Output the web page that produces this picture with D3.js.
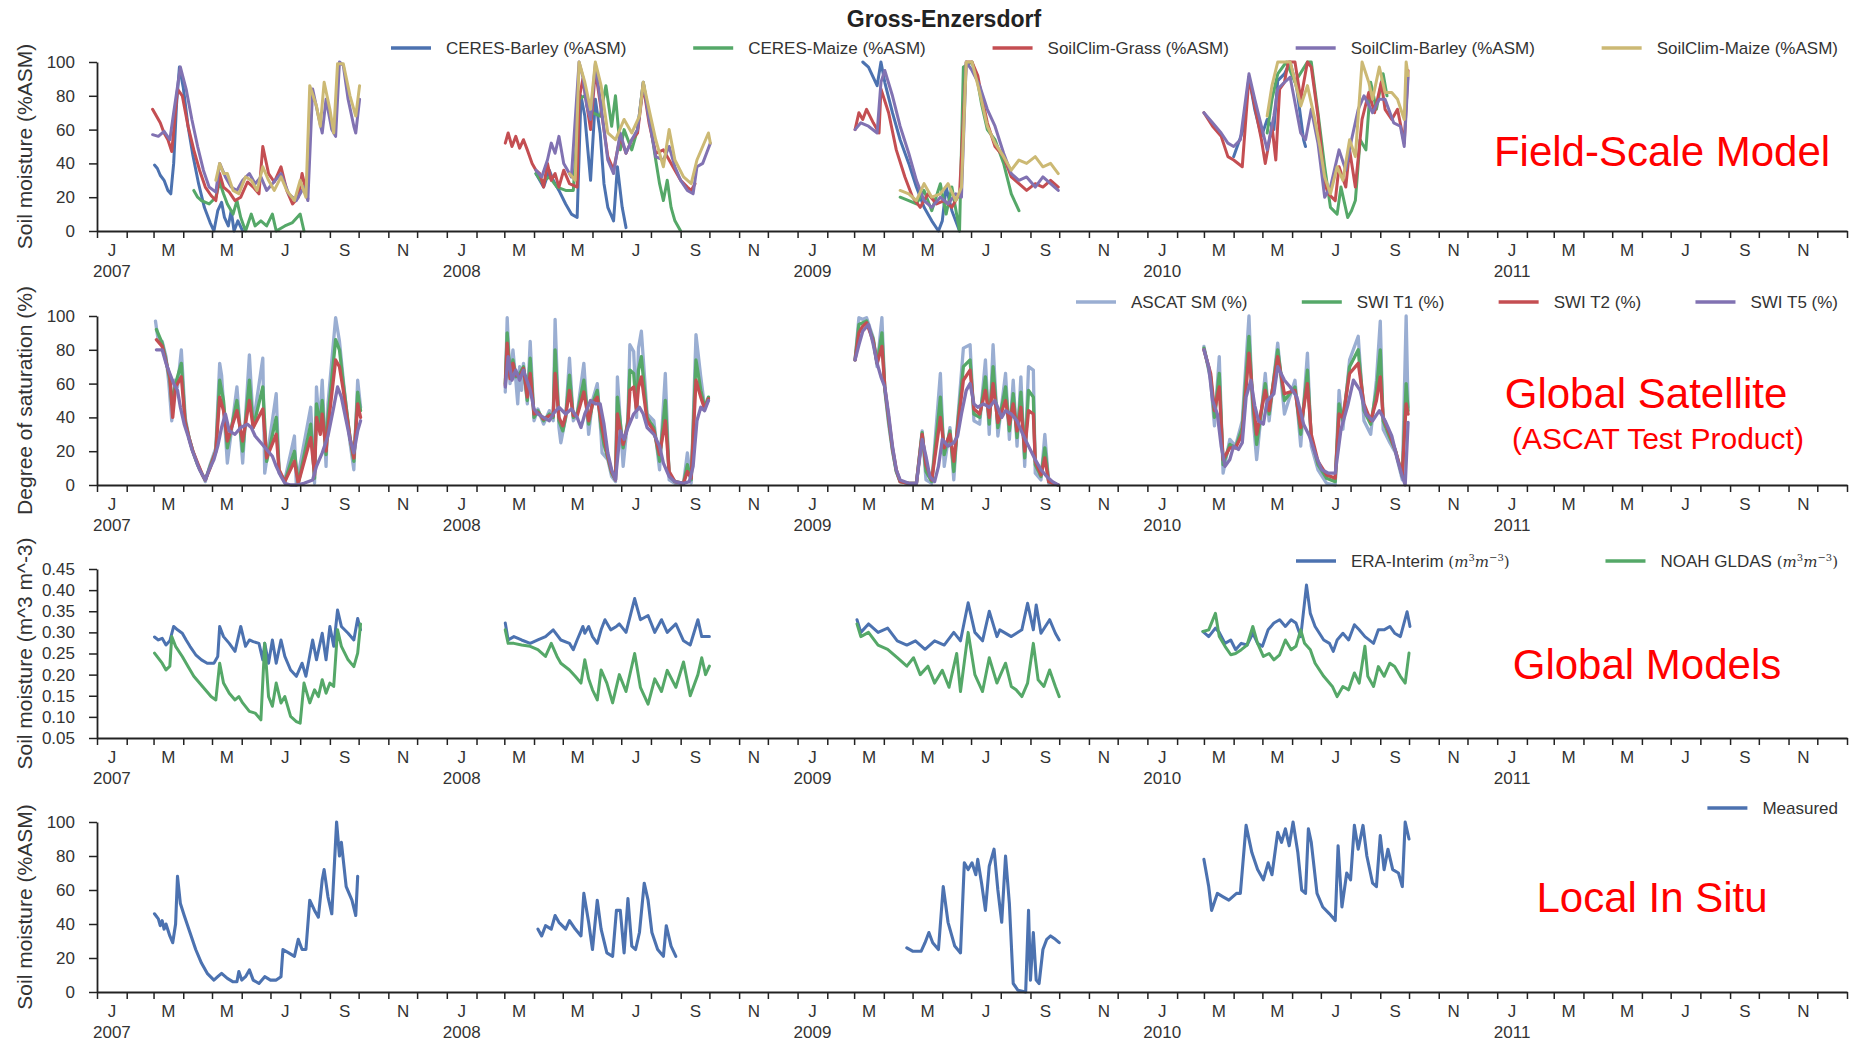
<!DOCTYPE html>
<html>
<head>
<meta charset="utf-8">
<script src="https://cdn.jsdelivr.net/npm/d3@7"></script>
<style>
  body { margin: 0; background: #fff; }
  text { font-family: "Liberation Sans", Arial, sans-serif; }
</style>
</head>
<body>
<svg id="chart" width="1860" height="1041"></svg>
<script>
// ---- tick labels ----
const monthLabels = ["J", "M", "M", "J", "S", "N"];
const yearLabels = ["2007", "2008", "2009", "2010", "2011"];
const pctTicks = [0, 20, 40, 60, 80, 100];
const volTicks = [0.05, 0.10, 0.15, 0.20, 0.25, 0.30, 0.35, 0.40, 0.45];

// ---- data: [year, [[day of year, value], ...]] ----
// Field-scale model (%ASM)
const ceresBarley = [
  [2007, [[60,39],[63,37],[66,33],[70,30],[74,24],[77,22],[80,40],[83,75],[86,97],[90,85],[95,62],[100,45],[106,28],[112,14],[118,5],[122,0],[126,12],[130,17],[133,8],[137,3],[140,12],[143,0],[147,6],[152,0]]],
  [2008, [[93,34],[97,30],[101,26],[107,36],[111,30],[117,24],[124,16],[130,10],[136,8],[140,80],[144,68],[150,30],[155,78],[160,58],[164,28],[168,14],[174,6],[178,38],[183,14],[187,2]]],
  [2009, [[68,100],[74,97],[83,86],[87,100],[91,88],[99,70],[107,54],[116,40],[124,26],[132,14],[140,6],[147,0],[151,6],[155,26],[161,12],[169,0]]],
  [2010, [[90,44],[100,60],[106,91],[112,72],[119,56],[125,66],[132,60],[136,89],[143,93],[149,100],[156,84],[163,54],[165,50]]]
];
const ceresMaize = [
  [2007, [[101,24],[105,20],[109,18],[117,16],[124,20],[128,29],[132,22],[136,16],[142,10],[146,18],[150,8],[155,0],[161,10],[165,3],[171,6],[177,3],[183,10],[187,0],[196,3],[204,5],[212,10],[216,0]]],
  [2008, [[93,34],[99,29],[107,32],[115,26],[124,24],[132,24],[138,78],[144,80],[152,70],[160,68],[166,86],[172,62],[176,80],[181,48],[185,60],[193,48],[199,60],[205,88],[211,68],[218,42],[222,28],[226,18],[230,30],[234,14],[238,6],[244,0]]],
  [2009, [[107,20],[116,18],[124,16],[132,24],[140,12],[149,28],[155,10],[161,26],[169,0],[173,97],[182,100],[188,88],[192,75],[198,60],[206,54],[215,40],[223,22],[231,12]]],
  [2010, [[125,58],[130,78],[136,93],[145,100],[154,88],[167,100],[171,100],[178,70],[185,38],[191,14],[198,10],[202,26],[209,8],[213,12],[217,18],[222,54],[228,48],[233,88],[239,72],[246,93],[250,80]]]
];
const soilClimGrass = [
  [2007, [[58,72],[62,68],[66,64],[70,58],[74,54],[78,47],[84,84],[89,80],[95,62],[101,48],[107,36],[113,26],[119,21],[124,18],[128,34],[132,26],[138,23],[144,18],[150,20],[157,29],[163,26],[169,22],[173,50],[179,34],[185,29],[192,38],[198,24],[204,16],[210,20],[214,34],[218,24],[220,19]]],
  [2008, [[61,52],[64,58],[68,50],[72,56],[76,49],[80,54],[84,48],[89,40],[93,36],[97,34],[101,26],[105,40],[109,30],[113,34],[117,26],[122,36],[128,28],[136,26],[138,78],[142,90],[146,75],[150,60],[155,95],[160,76],[168,44],[174,36],[181,56],[187,46],[193,54],[199,58],[205,86],[211,64],[218,46],[226,48],[232,42],[238,36],[244,30],[251,26],[255,24],[259,28]]],
  [2009, [[60,60],[64,70],[68,66],[72,72],[79,64],[85,58],[87,84],[95,70],[103,48],[112,32],[120,20],[128,14],[136,22],[145,16],[153,18],[161,14],[169,22],[176,100],[182,100],[188,92],[192,80],[198,64],[206,50],[215,44],[223,32],[231,28],[239,24],[248,28],[256,26],[264,30],[272,26]]],
  [2010, [[59,70],[68,62],[77,56],[84,44],[90,42],[99,38],[106,91],[112,74],[119,54],[123,40],[130,62],[134,42],[138,84],[143,88],[147,100],[154,100],[160,78],[167,100],[171,97],[178,68],[185,28],[189,22],[196,18],[200,38],[207,26],[211,48],[217,26],[224,66],[231,82],[237,70],[244,88],[248,72],[255,66],[261,72],[268,52],[272,95]]]
];
const soilClimBarley = [
  [2007, [[58,57],[64,56],[70,59],[76,54],[80,70],[87,97],[93,84],[99,66],[105,50],[111,36],[117,26],[124,23],[128,40],[134,32],[140,26],[146,24],[152,30],[159,34],[165,28],[171,32],[177,24],[183,28],[192,34],[200,22],[208,18],[216,26],[220,18],[225,84],[231,68],[235,58],[239,78],[245,60],[249,56],[253,100],[257,98],[262,78],[268,62],[270,58],[274,78]]],
  [2008, [[93,36],[99,32],[105,42],[109,52],[113,46],[117,56],[122,40],[130,32],[138,100],[142,91],[146,74],[150,66],[155,99],[160,78],[168,42],[174,34],[181,58],[187,46],[193,54],[199,60],[205,88],[211,66],[218,44],[226,42],[232,50],[238,38],[244,30],[251,24],[257,22],[261,38],[267,40],[271,46],[275,52]]],
  [2009, [[60,60],[66,64],[74,62],[83,58],[87,88],[91,95],[99,80],[107,62],[116,46],[124,30],[132,18],[140,14],[149,20],[157,16],[165,22],[171,20],[176,100],[182,95],[190,86],[198,72],[206,62],[215,46],[223,34],[231,30],[239,32],[248,26],[256,32],[264,28],[272,24]]],
  [2010, [[59,70],[68,64],[77,58],[84,52],[90,50],[97,54],[106,93],[112,78],[119,62],[125,48],[132,68],[136,84],[143,88],[149,91],[160,58],[165,54],[171,72],[178,52],[185,20],[191,26],[200,48],[207,36],[213,54],[220,72],[226,80],[235,70],[242,78],[248,78],[257,64],[264,62],[268,50],[272,91]]]
];
const soilClimMaize = [
  [2007, [[124,30],[128,40],[132,34],[136,34],[142,24],[148,22],[155,32],[161,30],[167,24],[173,38],[179,30],[185,24],[192,32],[198,24],[206,18],[212,30],[218,20],[222,86],[229,74],[233,62],[237,88],[243,72],[247,58],[251,99],[257,99],[264,80],[270,68],[274,86]]],
  [2008, [[128,34],[134,30],[138,100],[144,88],[150,72],[155,100],[161,86],[168,58],[176,54],[185,66],[193,58],[201,68],[205,88],[211,72],[218,54],[226,38],[232,60],[238,42],[247,32],[255,28],[261,42],[267,50],[273,58],[275,52]]],
  [2009, [[107,24],[116,22],[124,18],[132,28],[140,20],[149,22],[157,28],[165,18],[171,26],[176,100],[182,100],[190,82],[198,62],[206,52],[215,44],[223,36],[231,42],[239,40],[248,44],[256,38],[264,40],[272,34]]],
  [2010, [[125,68],[130,86],[136,100],[143,100],[149,100],[156,84],[160,74],[167,86],[174,68],[180,50],[185,32],[191,22],[198,38],[204,30],[211,54],[217,44],[224,100],[231,88],[235,78],[242,97],[248,82],[255,82],[261,78],[268,66],[270,100],[272,92]]]
];

// Global satellite (degree of saturation, %)
const ascatSM = [
  [2007, [[61,97],[64,85],[68,85],[72,76],[75,60],[78,38],[81,62],[84,58],[88,80],[92,40],[96,28],[100,20],[105,12],[110,6],[113,2],[118,12],[124,22],[128,72],[130,65],[136,13],[146,58],[152,13],[159,77],[163,36],[173,75],[175,7],[187,54],[190,7],[196,3],[206,29],[208,0],[223,46],[227,1],[229,58],[232,34],[235,62],[239,11],[241,48],[249,99],[253,85],[257,62],[264,25],[268,9],[272,62],[275,46]]],
  [2008, [[61,55],[63,99],[66,60],[69,80],[72,62],[74,48],[76,70],[78,56],[80,72],[84,48],[87,85],[91,38],[95,45],[101,36],[107,44],[111,38],[113,98],[117,34],[119,25],[124,40],[128,75],[132,38],[136,42],[143,72],[148,30],[152,50],[157,60],[161,29],[162,19],[168,15],[172,5],[176,2],[178,64],[184,11],[189,40],[191,83],[195,79],[198,40],[200,81],[203,91],[209,42],[216,38],[222,9],[228,66],[232,3],[238,1],[247,1],[251,19],[255,1],[260,89],[265,64],[269,46],[273,50]]],
  [2009, [[60,74],[64,99],[68,98],[72,99],[79,87],[83,70],[88,99],[91,56],[95,36],[99,20],[103,8],[107,2],[116,1],[124,1],[130,32],[134,3],[140,1],[149,66],[153,11],[159,34],[163,3],[167,38],[173,81],[180,83],[184,38],[190,36],[196,74],[200,30],[204,83],[209,29],[217,66],[221,27],[225,62],[229,23],[233,64],[237,11],[241,70],[246,68],[248,7],[254,3],[258,30],[262,1],[272,0]]],
  [2010, [[59,82],[66,62],[70,35],[75,76],[79,7],[86,27],[92,23],[99,38],[106,100],[110,42],[114,15],[123,66],[127,38],[136,84],[143,42],[154,62],[160,23],[167,78],[171,23],[178,9],[187,1],[196,0],[200,56],[204,33],[211,74],[220,88],[226,38],[233,30],[239,62],[243,97],[246,33],[253,25],[259,19],[266,3],[270,100],[272,46]]]
];
const swiT1 = [
  [2007, [[62,92],[68,84],[72,74],[76,62],[78,48],[82,60],[88,72],[92,38],[96,28],[100,20],[105,12],[110,6],[113,3],[118,11],[124,20],[128,62],[132,50],[136,22],[146,50],[152,20],[159,62],[163,34],[173,58],[177,14],[187,40],[190,8],[196,2],[206,20],[210,1],[223,36],[227,4],[229,48],[233,36],[235,50],[239,18],[241,40],[249,86],[253,80],[257,60],[264,28],[268,14],[272,55],[275,44]]],
  [2008, [[61,60],[63,90],[66,64],[69,74],[72,64],[76,66],[80,70],[84,50],[87,75],[91,40],[95,44],[101,38],[107,42],[111,40],[113,80],[117,38],[121,32],[124,40],[128,65],[132,40],[136,42],[143,62],[148,36],[152,48],[157,56],[161,34],[164,24],[168,16],[172,7],[176,3],[178,52],[184,22],[189,38],[191,68],[195,66],[198,44],[200,68],[203,76],[209,40],[216,34],[222,14],[228,50],[232,6],[238,2],[247,1],[251,12],[255,3],[260,74],[265,56],[269,46],[273,52]]],
  [2009, [[60,74],[64,95],[68,96],[72,97],[79,86],[83,72],[88,90],[91,57],[95,38],[99,21],[103,8],[107,2],[116,1],[124,1],[130,31],[134,8],[140,2],[149,52],[153,18],[159,32],[163,8],[167,36],[173,70],[180,74],[184,42],[190,40],[196,64],[200,36],[204,70],[209,34],[217,58],[221,32],[225,54],[229,28],[233,55],[237,16],[241,56],[246,52],[248,12],[254,5],[258,22],[262,2],[272,0]]],
  [2010, [[59,81],[66,64],[70,40],[75,66],[79,12],[86,24],[92,22],[99,34],[106,88],[110,48],[114,24],[123,60],[127,42],[136,80],[143,50],[154,58],[160,30],[167,68],[171,28],[178,12],[187,4],[196,2],[200,48],[204,38],[211,70],[220,80],[226,44],[233,36],[239,56],[243,80],[246,38],[253,28],[259,20],[266,5],[270,60],[272,44]]]
];
const swiT2 = [
  [2007, [[62,86],[68,82],[72,73],[76,64],[79,40],[82,58],[88,64],[92,37],[96,28],[100,20],[105,13],[110,6],[113,3],[118,10],[124,20],[128,52],[132,44],[136,26],[146,44],[152,26],[159,50],[163,34],[173,45],[177,16],[187,30],[190,9],[196,2],[206,14],[210,1],[223,28],[227,6],[229,40],[233,30],[235,42],[239,20],[241,34],[249,74],[253,70],[257,56],[264,28],[268,16],[272,48],[275,40]]],
  [2008, [[61,59],[63,84],[66,63],[69,72],[72,65],[76,64],[80,69],[84,52],[87,66],[91,42],[95,43],[101,39],[107,41],[111,41],[113,66],[117,40],[121,35],[124,41],[128,56],[132,41],[136,41],[143,55],[148,38],[152,48],[157,52],[161,38],[164,28],[168,17],[172,8],[176,3],[178,42],[184,24],[189,36],[191,56],[195,58],[198,44],[200,58],[203,64],[209,38],[216,32],[222,18],[228,38],[232,8],[238,2],[247,1],[251,8],[255,4],[260,62],[265,52],[269,45],[273,51]]],
  [2009, [[60,74],[64,90],[68,94],[72,96],[79,85],[83,72],[88,82],[91,58],[95,40],[99,22],[103,9],[107,2],[116,1],[124,1],[130,30],[134,12],[140,3],[149,40],[153,22],[159,30],[163,14],[167,34],[173,62],[180,68],[184,45],[190,42],[196,56],[200,40],[204,60],[209,37],[217,50],[221,36],[225,48],[229,32],[233,46],[237,20],[241,44],[246,42],[248,14],[254,6],[258,16],[262,2],[272,0]]],
  [2010, [[59,80],[66,66],[70,44],[75,58],[79,15],[86,22],[92,22],[99,30],[106,78],[110,52],[114,30],[123,56],[127,44],[136,76],[143,54],[154,56],[160,34],[167,60],[171,30],[178,14],[187,6],[196,4],[200,42],[204,40],[211,66],[220,72],[226,48],[233,38],[239,50],[243,64],[246,40],[253,30],[259,20],[266,6],[270,48],[272,42]]]
];
const swiT5 = [
  [2007, [[62,80],[68,80],[72,72],[76,66],[80,60],[84,56],[87,46],[91,36],[95,29],[99,21],[103,15],[107,9],[111,5],[113,3],[117,9],[122,15],[126,23],[130,34],[134,42],[138,32],[144,30],[150,34],[157,36],[161,34],[165,29],[171,25],[177,21],[183,17],[187,11],[192,5],[196,1],[202,0],[208,0],[216,1],[225,3],[229,11],[235,19],[241,29],[247,46],[251,58],[255,52],[260,38],[264,27],[268,19],[272,32],[275,38]]],
  [2008, [[61,58],[64,76],[68,62],[72,68],[76,62],[80,68],[87,56],[91,45],[95,42],[101,40],[107,38],[111,42],[117,46],[124,42],[130,45],[136,40],[140,34],[144,42],[150,50],[155,48],[160,48],[164,36],[168,19],[172,9],[176,3],[181,32],[185,27],[189,34],[195,42],[201,46],[205,42],[209,34],[216,30],[222,23],[226,13],[232,5],[238,2],[247,1],[253,2],[257,11],[261,38],[265,46],[269,44],[273,50]]],
  [2009, [[60,74],[64,83],[68,91],[74,95],[79,83],[83,72],[87,64],[91,58],[95,42],[99,23],[103,9],[107,3],[116,1],[124,1],[130,27],[134,17],[138,5],[143,2],[147,11],[151,27],[157,23],[163,25],[167,29],[171,42],[176,56],[180,60],[184,48],[188,46],[194,48],[200,46],[206,50],[213,40],[217,44],[223,42],[229,38],[235,30],[241,23],[248,15],[254,9],[260,5],[266,2],[272,0]]],
  [2010, [[59,80],[64,70],[68,50],[73,42],[77,23],[81,11],[86,15],[90,23],[95,21],[99,25],[103,52],[108,62],[112,47],[116,38],[121,36],[125,50],[132,54],[136,70],[143,62],[149,58],[156,52],[163,36],[169,29],[176,17],[182,9],[189,7],[196,7],[202,33],[209,47],[215,62],[222,56],[228,42],[235,38],[242,44],[248,38],[255,29],[261,15],[266,5],[269,0],[272,37]]]
];

// Global models (m3 m-3)
const eraInterim = [
  [2007, [[60,0.289],[64,0.282],[68,0.286],[72,0.27],[76,0.28],[80,0.314],[84,0.306],[89,0.298],[93,0.282],[97,0.267],[103,0.247],[109,0.235],[115,0.227],[122,0.227],[126,0.243],[128,0.314],[132,0.29],[138,0.274],[144,0.255],[150,0.314],[155,0.267],[159,0.282],[163,0.278],[169,0.274],[173,0.235],[175,0.274],[179,0.227],[183,0.282],[187,0.227],[192,0.282],[196,0.243],[202,0.211],[208,0.196],[214,0.227],[218,0.196],[225,0.282],[229,0.235],[235,0.298],[239,0.235],[243,0.314],[247,0.267],[251,0.353],[255,0.314],[262,0.298],[268,0.282],[272,0.333],[275,0.306]]],
  [2008, [[61,0.322],[64,0.282],[70,0.29],[78,0.282],[87,0.274],[95,0.282],[103,0.29],[111,0.306],[119,0.282],[128,0.274],[132,0.259],[136,0.282],[142,0.314],[144,0.298],[148,0.314],[152,0.29],[157,0.274],[161,0.306],[165,0.33],[171,0.306],[177,0.314],[180,0.32],[187,0.3],[196,0.38],[202,0.33],[210,0.34],[217,0.3],[224,0.33],[230,0.3],[239,0.32],[247,0.28],[254,0.27],[262,0.33],[266,0.29],[274,0.29]]],
  [2009, [[62,0.33],[66,0.3],[74,0.32],[84,0.30],[94,0.31],[104,0.28],[114,0.27],[123,0.28],[133,0.26],[143,0.28],[153,0.27],[163,0.3],[170,0.28],[178,0.37],[185,0.3],[193,0.28],[200,0.35],[208,0.29],[211,0.306],[223,0.29],[234,0.306],[240,0.369],[246,0.306],[249,0.365],[254,0.298],[263,0.33],[269,0.298],[273,0.282]]],
  [2010, [[58,0.302],[64,0.29],[71,0.31],[75,0.30],[81,0.274],[87,0.282],[92,0.259],[98,0.274],[104,0.27],[110,0.298],[115,0.274],[120,0.267],[126,0.306],[132,0.322],[138,0.33],[144,0.314],[150,0.33],[155,0.322],[160,0.29],[166,0.412],[170,0.345],[175,0.314],[184,0.282],[190,0.274],[194,0.255],[198,0.282],[204,0.298],[210,0.282],[216,0.318],[221,0.306],[227,0.29],[236,0.274],[241,0.306],[247,0.306],[253,0.314],[258,0.298],[264,0.29],[271,0.349],[274,0.314]]]
];
const noahGldas = [
  [2007, [[60,0.251],[64,0.239],[68,0.227],[72,0.211],[76,0.22],[78,0.29],[82,0.267],[89,0.243],[95,0.219],[101,0.196],[107,0.18],[113,0.164],[119,0.148],[124,0.14],[128,0.227],[132,0.18],[138,0.156],[144,0.14],[148,0.148],[152,0.133],[159,0.113],[165,0.109],[171,0.093],[175,0.274],[179,0.148],[183,0.125],[187,0.18],[192,0.133],[196,0.148],[202,0.101],[208,0.089],[212,0.085],[216,0.18],[222,0.133],[227,0.164],[231,0.148],[235,0.188],[239,0.156],[243,0.18],[247,0.172],[251,0.306],[255,0.267],[262,0.235],[268,0.219],[272,0.251],[275,0.32]]],
  [2008, [[61,0.306],[64,0.274],[70,0.274],[78,0.27],[87,0.267],[95,0.259],[103,0.243],[109,0.274],[115,0.243],[119,0.227],[128,0.211],[134,0.196],[140,0.18],[144,0.235],[148,0.19],[152,0.164],[157,0.14],[161,0.211],[167,0.18],[173,0.133],[180,0.2],[187,0.16],[196,0.25],[202,0.17],[210,0.13],[217,0.19],[224,0.16],[230,0.21],[239,0.17],[247,0.23],[254,0.15],[262,0.2],[266,0.24],[270,0.2],[274,0.22]]],
  [2009, [[62,0.32],[66,0.29],[74,0.3],[84,0.27],[94,0.26],[104,0.24],[114,0.22],[121,0.24],[128,0.2],[136,0.22],[143,0.18],[151,0.21],[158,0.17],[166,0.25],[170,0.16],[178,0.3],[185,0.2],[193,0.16],[200,0.24],[208,0.18],[211,0.196],[217,0.227],[223,0.172],[228,0.164],[234,0.148],[240,0.18],[246,0.274],[251,0.188],[257,0.172],[263,0.211],[269,0.172],[273,0.148]]],
  [2010, [[58,0.302],[64,0.306],[71,0.345],[75,0.29],[81,0.267],[87,0.247],[92,0.25],[98,0.259],[104,0.27],[110,0.314],[115,0.274],[121,0.243],[127,0.25],[132,0.235],[138,0.247],[144,0.282],[150,0.259],[155,0.267],[160,0.306],[164,0.274],[170,0.259],[175,0.227],[184,0.196],[193,0.172],[198,0.148],[204,0.172],[210,0.164],[216,0.204],[221,0.18],[227,0.267],[230,0.196],[236,0.172],[241,0.219],[247,0.196],[253,0.227],[258,0.219],[264,0.196],[269,0.18],[273,0.251]]]
];

// Local in situ (%ASM)
const measured = [
  [2007, [[60,46],[64,43],[66,39],[68,42],[70,37],[72,40],[76,33],[79,29],[82,40],[84,68],[87,52],[91,45],[97,35],[103,25],[109,17],[115,11],[122,7],[126,9],[130,11],[136,8],[142,6],[146,6],[148,12],[151,7],[155,9],[159,13],[163,7],[169,5],[175,9],[181,7],[187,7],[192,9],[194,25],[200,23],[206,21],[210,31],[214,25],[218,25],[222,54],[227,48],[231,44],[235,66],[237,72],[241,56],[245,46],[250,100],[253,80],[255,88],[260,62],[266,54],[270,45],[272,68]]],
  [2008, [[95,37],[99,33],[103,39],[109,37],[113,45],[117,41],[124,37],[128,42],[134,37],[140,33],[143,58],[148,41],[152,25],[157,54],[161,37],[167,23],[173,21],[177,48],[181,48],[185,23],[189,55],[193,27],[197,25],[201,35],[206,64],[210,54],[214,35],[220,25],[226,21],[229,39],[234,27],[239,21]]],
  [2009, [[114,26],[120,24],[129,24],[133,29],[137,35],[141,29],[147,25],[152,62],[157,41],[164,27],[170,23],[174,76],[178,72],[182,76],[186,69],[188,78],[192,64],[196,48],[200,74],[205,84],[209,60],[213,41],[217,80],[221,52],[225,5],[230,1],[238,0],[241,48],[243,7],[246,35],[249,7],[252,5],[256,25],[260,31],[264,33],[269,31],[273,29]]],
  [2010, [[59,78],[64,62],[67,48],[73,58],[79,56],[85,54],[93,58],[97,58],[103,98],[109,82],[115,72],[121,66],[126,76],[130,69],[136,94],[140,88],[144,96],[148,86],[152,100],[157,82],[161,60],[165,58],[168,96],[171,88],[177,58],[183,50],[190,46],[196,42],[199,86],[203,50],[208,70],[212,66],[216,98],[220,84],[225,98],[229,80],[235,64],[239,62],[243,92],[247,72],[251,84],[256,72],[262,70],[266,62],[269,100],[273,90]]]
];

// ---- layout ----
const svg = d3.select("#chart");
const X0 = 97, X1 = 1847;
const x = d3.scaleTime()
  .domain([new Date(2007, 0, 1), new Date(2012, 0, 1)])
  .range([X0, X1]);

const BLUE = "#4c72b0", GREEN = "#55a868", RED = "#c44e52",
      PURPLE = "#8172b2", YELLOW = "#ccb974", LIGHTBLUE = "#9aaed2";

const mathUnit = [["(", null], ["m", "it"], ["3", "sup"], ["m", "it"], ["\u22123", "sup"], [")", null]];

const panels = [
  { top: 62, bottom: 231, domain: [0, 100], ticks: pctTicks, fmt: d3.format("d"),
    ylabel: "Soil moisture (%ASM)", legendY: 48, legendX: 391, width: 3,
    series: [
      { name: "CERES-Barley (%ASM)", color: BLUE, data: ceresBarley },
      { name: "CERES-Maize (%ASM)", color: GREEN, data: ceresMaize },
      { name: "SoilClim-Grass (%ASM)", color: RED, data: soilClimGrass },
      { name: "SoilClim-Barley (%ASM)", color: PURPLE, data: soilClimBarley },
      { name: "SoilClim-Maize (%ASM)", color: YELLOW, data: soilClimMaize }
    ],
    notes: [{ text: "Field-Scale Model", x: 1662, y: 166, size: 42 }] },
  { top: 316, bottom: 485, domain: [0, 100], ticks: pctTicks, fmt: d3.format("d"),
    ylabel: "Degree of saturation (%)", legendY: 302, legendX: 1076, width: 3.3,
    series: [
      { name: "ASCAT SM (%)", color: LIGHTBLUE, data: ascatSM },
      { name: "SWI T1 (%)", color: GREEN, data: swiT1 },
      { name: "SWI T2 (%)", color: RED, data: swiT2 },
      { name: "SWI T5 (%)", color: PURPLE, data: swiT5 }
    ],
    notes: [{ text: "Global Satellite", x: 1646, y: 408, size: 42 },
            { text: "(ASCAT Test Product)", x: 1658, y: 449, size: 30 }] },
  { top: 569, bottom: 738, domain: [0.05, 0.45], ticks: volTicks, fmt: d3.format(".2f"),
    ylabel: "Soil moisture (m^3 m^-3)", legendY: 561, legendX: 1296, width: 3,
    series: [
      { name: "ERA-Interim ", unit: true, color: BLUE, data: eraInterim },
      { name: "NOAH GLDAS ", unit: true, color: GREEN, data: noahGldas }
    ],
    notes: [{ text: "Global Models", x: 1647, y: 679, size: 42 }] },
  { top: 822, bottom: 992, domain: [0, 100], ticks: pctTicks, fmt: d3.format("d"),
    ylabel: "Soil moisture (%ASM)", legendY: 808, legendX: 1698, width: 3.1,
    series: [
      { name: "Measured", color: BLUE, data: measured }
    ],
    notes: [{ text: "Local In Situ", x: 1652, y: 912, size: 42 }] }
];

// title
svg.append("text")
  .attr("x", 944).attr("y", 27)
  .attr("text-anchor", "middle")
  .style("font-size", "23px").style("font-weight", "bold").style("fill", "#222")
  .text("Gross-Enzersdorf");

function styleAxis(g, size) {
  g.selectAll("text").style("font-size", size + "px").style("fill", "#333")
    .style("font-family", '"Liberation Sans", Arial, sans-serif');
  g.selectAll("line").attr("stroke", "#222").attr("stroke-width", 1.5);
  g.select(".domain").attr("stroke", "#222").attr("stroke-width", 1.8);
}

panels.forEach((p) => {
  const y = d3.scaleLinear().domain(p.domain).range([p.bottom, p.top]);
  const g = svg.append("g");

  // series
  const line = d3.line()
    .x((d) => x(d3.timeDay.offset(new Date(d.year, 0, 1), d.doy)))
    .y((d) => y(d.v));
  p.series.forEach((s) => {
    s.data.forEach(([year, pts]) => {
      g.append("path")
        .datum(pts.map(([doy, v]) => ({ year, doy, v })))
        .attr("d", line)
        .attr("fill", "none")
        .attr("stroke", s.color)
        .attr("stroke-width", p.width)
        .attr("stroke-linejoin", "round")
        .attr("stroke-linecap", "round");
    });
  });

  // x axis: month ticks
  const ax = g.append("g").attr("transform", `translate(0,${p.bottom})`)
    .call(d3.axisBottom(x).ticks(d3.timeMonth.every(1)).tickSize(7).tickSizeOuter(0).tickFormat(""));
  styleAxis(ax, 17);

  // month letters (mid-month, every other month)
  const mids = d3.timeMonth.every(2).range(new Date(2007, 0, 1), new Date(2012, 0, 1))
    .map((d) => d3.timeDay.offset(d, 15));
  const ml = g.append("g").attr("transform", `translate(0,${p.bottom})`)
    .call(d3.axisBottom(x).tickValues(mids).tickSize(0).tickPadding(13)
      .tickFormat((d) => monthLabels[Math.floor(d.getMonth() / 2)]));
  ml.select(".domain").remove();
  styleAxis(ml, 17);

  // year labels
  const yl = g.append("g").attr("transform", `translate(0,${p.bottom})`)
    .call(d3.axisBottom(x)
      .tickValues(yearLabels.map((t) => new Date(+t, 0, 16)))
      .tickSize(0).tickPadding(34)
      .tickFormat((d) => yearLabels[d.getFullYear() - 2007]));
  yl.select(".domain").remove();
  styleAxis(yl, 17);

  // y axis
  const ay = g.append("g").attr("transform", `translate(${X0},0)`)
    .call(d3.axisLeft(y).tickValues(p.ticks).tickSize(8).tickPadding(14).tickSizeOuter(0).tickFormat(p.fmt));
  styleAxis(ay, 17);

  // y label
  g.append("text")
    .attr("transform", `translate(32,${(p.top + p.bottom) / 2}) rotate(-90)`)
    .attr("text-anchor", "middle")
    .style("font-size", "21px").style("fill", "#333")
    .text(p.ylabel);

  // legend: spread between legendX and right edge
  const lg = g.append("g");
  const items = p.series.map((s) => {
    const it = lg.append("g");
    it.append("line").attr("x1", 0).attr("x2", 40).attr("y1", 0).attr("y2", 0)
      .attr("stroke", s.color).attr("stroke-width", 3.6);
    const t = it.append("text").attr("x", 55).attr("dy", "0.35em")
      .style("font-size", "17px").style("fill", "#333");
    t.append("tspan").text(s.name);
    if (s.unit) {
      let raised = false;
      mathUnit.forEach(([txt, kind]) => {
        const ts = t.append("tspan").text(txt)
          .style("font-family", '"DejaVu Serif", "Liberation Serif", serif')
          .style("font-size", kind === "sup" ? "10px" : "15px");
        if (kind === "it") ts.style("font-style", "italic");
        if (kind === "sup" && !raised) { ts.attr("dy", "-0.6em"); raised = true; }
        else if (kind !== "sup" && raised) { ts.attr("dy", "0.4em"); raised = false; }
      });
    }
    return { it, w: 55 + t.node().getComputedTextLength() };
  });
  const RIGHT = 1838;
  const total = d3.sum(items, (d) => d.w);
  const gap = items.length > 1 ? (RIGHT - p.legendX - total) / (items.length - 1) : 0;
  let cx = items.length > 1 ? p.legendX : RIGHT - total;
  items.forEach((d) => {
    d.it.attr("transform", `translate(${cx},${p.legendY})`);
    cx += d.w + gap;
  });

  // red annotations
  p.notes.forEach((n) => {
    g.append("text").attr("x", n.x).attr("y", n.y)
      .attr("text-anchor", "middle")
      .style("font-size", n.size + "px").style("fill", "#ff0000")
      .text(n.text);
  });
});
</script>
</body>
</html>
